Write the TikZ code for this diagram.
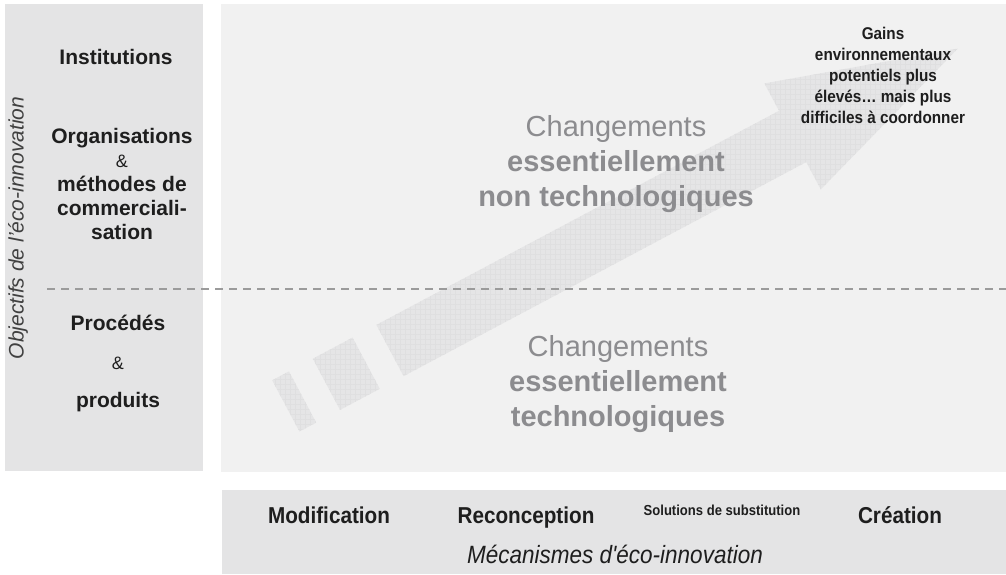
\documentclass[tikz,border=0pt]{standalone}
\usepackage{fontspec}
\setmainfont{Liberation Sans}
\newfontfamily\narrowsf{Liberation Sans}[FakeStretch=0.9]
\usetikzlibrary{patterns.meta}
\definecolor{panelc}{RGB}{228,228,229}
\definecolor{mainc}{RGB}{241,241,241}
\definecolor{arrowc}{RGB}{229,229,230}
\definecolor{gridc}{RGB}{223,223,224}
\definecolor{changc}{RGB}{140,140,143}
\definecolor{dashc}{RGB}{155,155,155}
\definecolor{inkc}{RGB}{30,30,30}

\begin{document}
\begin{tikzpicture}[x=1pt,y=-1pt]
\tikzstyle{lbl}=[anchor=center,text=inkc,font=\bfseries\fontsize{21}{24}\selectfont,align=center,inner sep=0pt];
\tikzstyle{amp}=[anchor=center,text=inkc,font=\fontsize{18}{20}\selectfont,inner sep=0pt];
\tikzstyle{chg}=[anchor=center,text=changc,font=\fontsize{29}{35}\selectfont,align=center,inner sep=0pt];
\tikzstyle{mech}=[anchor=base,text=inkc,font=\narrowsf\bfseries\fontsize{23}{27}\selectfont,inner sep=0pt];
\tikzstyle{arrowpart}=[preaction={fill=arrowc},pattern={Hatch[angle=0,distance=5pt,line width=0.3pt]},pattern color=gridc];

\useasboundingbox (0,0) rectangle (1006,574);
\fill[white] (0,0) rectangle (1006,574);

% panels
\fill[panelc] (5,4) rectangle (203,471);
\fill[mainc] (221,4) rectangle (1006,472);
\fill[panelc] (222,490) rectangle (1006,574);

% big arrow, drawn along its own axis
\begin{scope}[shift={(390,350.5)},rotate=28]
        \path[arrowpart] (0,-29) -- (456,-29) -- (456,-60) -- (643,0) -- (456,60) -- (456,29) -- (0,29) -- cycle;
        \foreach \a/\b in {-72/-27,-118/-99}
          \path[arrowpart] (\a,-29) rectangle (\b,29);
\end{scope}

\draw[dashc,line width=1.4pt,dash pattern=on 8pt off 6pt] (47,289) -- (1006,289);

% objectives
\node[rotate=90,anchor=center,text=black!75,font=\itshape\fontsize{21}{25}\selectfont,inner sep=0pt] (obj) at (18,228) {Objectifs de l'éco-innovation};

\node[lbl] (inst) at (116,57) {Institutions};
\node[lbl] (orga) at (122,184) {Organisations\\{\mdseries\fontsize{18}{24}\selectfont \&}\\méthodes de\\commerciali-\\sation};
\node[lbl] (proc) at (118,323) {Procédés};
\node[amp] (amp) at (118,363) {\&};
\node[lbl] (prod) at (118,402) {produits};

% the two kinds of change
\node[chg] (nontech) at (616,164) {Changements\\\textbf{essentiellement}\\\textbf{non technologiques}};
\node[chg] (tech) at (618,384) {Changements\\\textbf{essentiellement}\\\textbf{technologiques}};

\node[anchor=center,text=inkc,font=\narrowsf\bfseries\fontsize{17}{21}\selectfont,align=center,inner sep=0pt] (gains) at (883,75) {Gains\\environnementaux\\potentiels plus\\élevés\dots\ mais plus\\difficiles à coordonner};

% mechanisms
\node[mech] (modif) at (329,523) {Modification};
\node[mech] (recon) at (526,523) {Reconception};
\node[mech,font=\narrowsf\bfseries\fontsize{14.5}{17}\selectfont] (subst) at (722,515) {Solutions de substitution};
\node[mech] (creat) at (900,523) {Création};
\node[mech,font=\narrowsf\itshape\fontsize{25}{29}\selectfont] (mecan) at (615,563) {Mécanismes d'éco-innovation};

\end{tikzpicture}
\end{document}
